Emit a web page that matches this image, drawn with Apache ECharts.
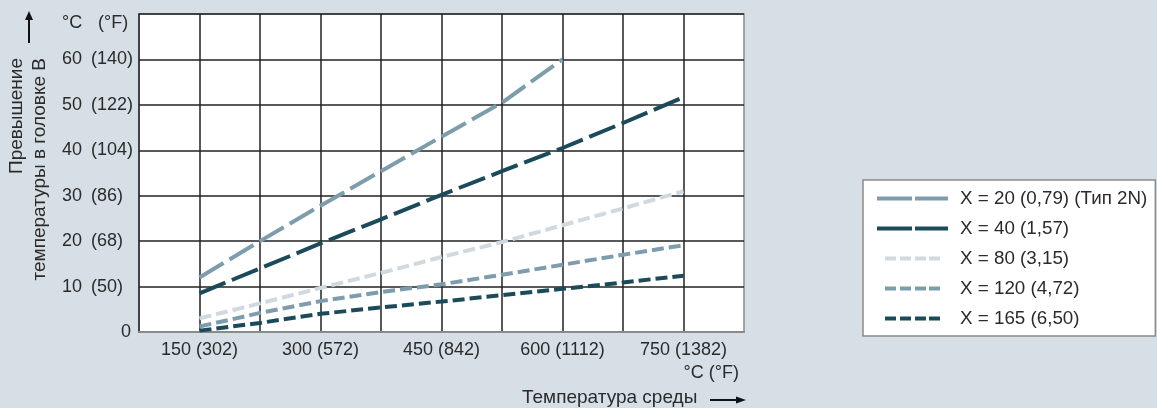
<!DOCTYPE html>
<html>
<head>
<meta charset="utf-8">
<script src="https://cdn.jsdelivr.net/npm/echarts@6/dist/echarts.min.js"></script>
<style>
html,body{margin:0;padding:0;background:#d5dfe5;}
#chart{width:1157px;height:408px;}
</style>
</head>
<body>
<div id="chart"></div>
<script>
// ---- data ----
const xValues = [150, 225, 300, 375, 450, 525, 600, 675, 750];
const s20  = [12, 20, 27.8, 35.4, 43, 50.5, 60];
const s40  = [8.5, 14, 19.5, 24.8, 30.2, 35.4, 40.5, 46, 51.7];
const s80  = [3, 6.3, 9.7, 13, 16.5, 19.8, 23.5, 27.2, 31];
const s120 = [1.2, 4.2, 6.8, 8.8, 10.5, 12.6, 14.8, 17, 19.1];
const s165 = [0.3, 2, 4, 5.4, 6.7, 8.1, 9.5, 10.9, 12.4];
const seriesNames = ['X = 20 (0,79) (Тип 2N)', 'X = 40 (1,57)', 'X = 80 (3,15)', 'X = 120 (4,72)', 'X = 165 (6,50)'];
const xTickValues = [150, 300, 450, 600, 750];
const xTickLabels = ['150 (302)', '300 (572)', '450 (842)', '600 (1112)', '750 (1382)'];
const yTickValues = [0, 10, 20, 30, 40, 50, 60, 70];
const yTickC = ['0', '10', '20', '30', '40', '50', '60', '°C'];
const yTickF = ['', '(50)', '(68)', '(86)', '(104)', '(122)', '(140)', '(°F)'];
const yTitle1 = 'Превышение';
const yTitle2 = 'температуры в головке B';
const xUnit = '°C (°F)';
const xTitle = 'Температура среды';

const seriesData = [s20, s40, s80, s120, s165];
const colors = ['#7d9dac', '#1b4b5a', '#d0d9df', '#7d9dac', '#1b4b5a'];
const dashes = [[28, 7], [28, 7], [12, 5], [12, 5], [12, 5]];

// legend icons (dash shapes in a 71x4 box; tiny corner rects fix the bounding box)
const corners = 'M0,0h0.01v0.01h-0.01z M70.99,3.99h0.01v0.01h-0.01z ';
const longIcon = 'path://' + corners + 'M0,0h35v4h-35z M38,0h33v4h-33z';
const shortIcon = 'path://' + corners + 'M8,0h11v4h-11z M23,0h11v4h-11z M38,0h11v4h-11z M52,0h11v4h-11z';
const icons = [longIcon, longIcon, shortIcon, shortIcon, shortIcon];

const FONT = 'Liberation Sans, Arial, sans-serif';
const TXT = '#2b2b2b';

const chart = echarts.init(document.getElementById('chart'), null, {renderer: 'canvas'});
chart.setOption({
  backgroundColor: '#d5dfe5',
  animation: false,
  textStyle: {fontFamily: FONT},
  grid: {left: 139, top: 14, right: 413, bottom: 76, show: true, backgroundColor: '#ffffff', borderColor: '#8a8a8a', borderWidth: 1.5},
  xAxis: {
    type: 'value', min: 75, max: 825, interval: 75,
    axisLine: {show: true, lineStyle: {color: '#8a8a8a', width: 2}},
    axisTick: {show: false},
    splitLine: {show: true, showMinLine: false, showMaxLine: false, lineStyle: {color: '#222', width: 1.5}},
    axisLabel: {
      margin: 9, color: TXT, fontSize: 18, fontFamily: FONT,
      showMinLabel: true, showMaxLabel: true,
      formatter: v => { const i = xTickValues.indexOf(v); return i >= 0 ? xTickLabels[i] : ''; }
    }
  },
  yAxis: {
    type: 'value', min: 0, max: 70, interval: 10,
    axisLine: {show: true, lineStyle: {color: '#222', width: 1.5}},
    axisTick: {show: false},
    splitLine: {show: true, showMinLine: false, lineStyle: {color: '#222', width: 1.5}},
    axisLabel: {
      align: 'left', margin: 77, color: TXT, fontSize: 18, fontFamily: FONT,
      formatter: v => {
        const i = yTickValues.indexOf(v);
        if (i < 0) return '';
        if (v === 0) return '{z|' + yTickC[i] + '}';
        if (v === 70) return '{u|' + yTickC[i] + '}{v|' + yTickF[i] + '}';
        return '{n|' + yTickC[i] + '}{f|' + yTickF[i] + '}';
      },
      rich: {
        z: {padding: [0, 0, 0, 59], fontSize: 18, color: TXT, fontFamily: FONT},
        n: {width: 29, fontSize: 18, color: TXT, fontFamily: FONT},
        f: {fontSize: 18, color: TXT, fontFamily: FONT},
        u: {width: 36, fontSize: 18, color: TXT, fontFamily: FONT, padding: [18, 0, 0, 0]},
        v: {fontSize: 18, color: TXT, fontFamily: FONT, padding: [18, 0, 0, 0]}
      }
    }
  },
  legend: {
    orient: 'vertical', left: 863, top: 180,
    padding: [9, 8, 8, 14],
    backgroundColor: '#ffffff', borderColor: '#8a8a8a', borderWidth: 1.5, borderRadius: 0,
    itemWidth: 71, itemHeight: 4, itemGap: 11,
    itemStyle: {borderWidth: 0},
    textStyle: {fontSize: 18.8, color: TXT, fontFamily: FONT, padding: [0, 0, 0, 7]},
    data: seriesNames.map((n, k) => ({name: n, icon: icons[k]}))
  },
  series: seriesData.map((arr, k) => ({
    name: seriesNames[k],
    type: 'line',
    symbol: 'none',
    data: arr.map((y, i) => [xValues[i], y]),
    z: 10 - k,
    lineStyle: {color: colors[k], width: 4, type: dashes[k], cap: 'butt'},
    itemStyle: {color: colors[k]}
  })),
  graphic: [
    {type: 'text', x: 17, y: 58, rotation: Math.PI / 2, style: {text: yTitle1, font: '19px ' + FONT, fill: TXT, align: 'right', verticalAlign: 'middle'}},
    {type: 'text', x: 40, y: 58, rotation: Math.PI / 2, style: {text: yTitle2, font: '19px ' + FONT, fill: TXT, align: 'right', verticalAlign: 'middle'}},
    {type: 'line', shape: {x1: 29, y1: 43, x2: 29, y2: 18}, style: {stroke: '#111', lineWidth: 2}},
    {type: 'polygon', shape: {points: [[25, 20], [33, 20], [29, 11]]}, style: {fill: '#111'}},
    {type: 'text', x: 739, y: 373, style: {text: xUnit, font: '18px ' + FONT, fill: TXT, align: 'right', verticalAlign: 'middle'}},
    {type: 'text', x: 522, y: 398, style: {text: xTitle, font: '19px ' + FONT, fill: TXT, align: 'left', verticalAlign: 'middle'}},
    {type: 'line', shape: {x1: 710, y1: 400, x2: 738, y2: 400}, style: {stroke: '#111', lineWidth: 2}},
    {type: 'polygon', shape: {points: [[736, 396.5], [736, 403.5], [746, 400]]}, style: {fill: '#111'}}
  ]
});
</script>
</body>
</html>
